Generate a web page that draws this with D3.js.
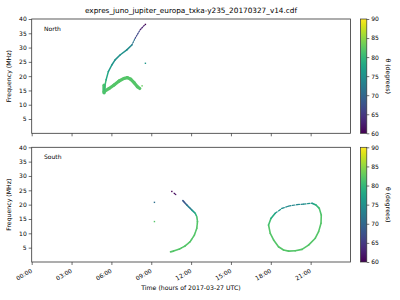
<!DOCTYPE html>
<html>
<head>
<meta charset="utf-8">
<script src="https://cdn.jsdelivr.net/npm/d3@7"></script>
<style>
  body { margin: 0; background: #fff; }
  text { font-family: "DejaVu Sans", sans-serif; fill: #000; }
</style>
</head>
<body>
<svg id="chart" width="400" height="300"></svg>
<script>
const tickHours = [0, 3, 6, 9, 12, 15, 18, 21];
const freqTicks = [5, 10, 15, 20, 25, 30, 35, 40];
const thetaTicks = [60, 65, 70, 75, 80, 85, 90];

// points are [hour, frequency MHz, theta degrees]
const northUpper = [
   [5.45, 15.2, 82], [5.60, 18.7, 79], [5.77, 21.6, 77], [6.03, 23.9, 76],
   [6.28, 25.7, 75], [6.65, 27.4, 75], [7.16, 29.2, 75], [7.54, 30.9, 74]
];
const northUpperTop = [
   [7.54, 30.9, 74], [7.78, 33.2, 69], [8.16, 36.2, 64], [8.50, 37.9, 61]
];
const northLower = [
   [5.45, 14.6, 82], [5.83, 15.7, 82], [6.20, 16.9, 82], [6.58, 18.3, 82],
   [6.95, 19.2, 82], [7.20, 19.5, 82], [7.46, 18.9, 82], [7.71, 17.7, 82],
   [7.96, 16.3, 82], [8.14, 15.7, 82]
];
const northBlob = [[5.45, 14.2, 82], [5.45, 16.8, 81]];
const northDots = [[8.56, 24.5, 76], [8.31, 16.6, 83], [8.56, 38.1, 60]];

const southArcTop = [[10.72, 24.0, 61], [10.85, 23.5, 61]];
const southArc = [
   [11.38, 21.4, 66], [11.68, 19.9, 70], [12.06, 18.1, 75], [12.31, 17.0, 78],
   [12.43, 15.8, 81], [12.48, 14.1, 82], [12.43, 11.8, 82], [12.25, 9.4, 82],
   [11.93, 7.1, 82], [11.55, 5.6, 82], [11.12, 4.5, 82], [10.67, 3.8, 82],
   [10.42, 3.5, 82]
];
const southLoop = [
   [21.10, 20.5, 76], [21.40, 19.9, 79], [21.65, 18.7, 81], [21.80, 16.4, 82],
   [21.78, 13.5, 82], [21.60, 10.6, 82], [21.35, 8.3, 82], [20.84, 5.9, 82],
   [20.35, 4.4, 82], [19.84, 3.9, 82], [19.34, 3.8, 82], [18.96, 4.2, 82],
   [18.58, 5.3, 82], [18.21, 7.7, 82], [17.96, 10.0, 82], [17.83, 12.9, 82],
   [18.01, 15.2, 80], [18.33, 17.0, 77]
];
const southLoopTop = [
   [18.33, 17.0, 77], [18.84, 18.7, 75], [19.34, 19.5, 74], [19.97, 20.0, 74],
   [20.47, 20.2, 74], [21.10, 20.5, 76]
];
const southDots = [[9.24, 20.8, 71], [9.24, 14.1, 82], [10.55, 24.6, 60]];

const svg = d3.select('#chart');
const color = d3.scaleSequential(d3.interpolateViridis).domain([60, 90]);
const x = d3.scaleLinear().domain([0, 24]).range([31.7, 350.5]);
const fmt = (h) => String(h).padStart(2, '0') + ':00';

const panels = [
   {
      name: 'North', top: 19, bottom: 133.3, labels: false,
      branches: [
         { pts: northLower, w: 3.2 },
         { pts: northBlob, w: 3.5 },
         { pts: northUpper, w: 1.5 },
         { pts: northUpperTop, w: 1.2, dash: '1.2,1.3' }
      ],
      dots: northDots
   },
   {
      name: 'South', top: 147.3, bottom: 262, labels: true,
      branches: [
         { pts: southArcTop, w: 1.2 },
         { pts: southArc, w: 1.6, dash: '3,0.8' },
         { pts: southLoop, w: 1.6 },
         { pts: southLoopTop, w: 1.2, dash: '2.5,1.5' }
      ],
      dots: southDots
   }
];

svg.append('text')
   .attr('x', 191).attr('y', 13)
   .attr('text-anchor', 'middle')
   .style('font-size', '7.3px')
   .text('expres_juno_jupiter_europa_txka-y235_20170327_v14.cdf');

panels.forEach((p) => {
   const y = d3.scaleLinear().domain([0, 40]).range([p.bottom, p.top]);
   const g = svg.append('g');

   p.branches.forEach((b) => {
      g.append('g')
         .selectAll('line')
         .data(d3.pairs(b.pts))
         .join('line')
         .attr('x1', (d) => x(d[0][0]))
         .attr('y1', (d) => y(d[0][1]))
         .attr('x2', (d) => x(d[1][0]))
         .attr('y2', (d) => y(d[1][1]))
         .attr('stroke', (d) => color((d[0][2] + d[1][2]) / 2))
         .attr('stroke-width', b.w)
         .attr('stroke-linecap', 'round')
         .attr('stroke-dasharray', b.dash || null);
   });

   g.append('g')
      .selectAll('rect')
      .data(p.dots)
      .join('rect')
      .attr('x', (d) => x(d[0]) - 0.7)
      .attr('y', (d) => y(d[1]) - 0.7)
      .attr('width', 1.4)
      .attr('height', 1.4)
      .attr('fill', (d) => color(d[2]));

   // axes
   const yAxis = g.append('g')
      .attr('transform', `translate(${x(0)},0)`)
      .call(d3.axisLeft(y).tickValues(freqTicks).tickSize(3).tickPadding(2));
   const xAxis = g.append('g')
      .attr('transform', `translate(0,${p.bottom})`)
      .call(d3.axisBottom(x).tickValues(tickHours).tickSize(3)
         .tickFormat(p.labels ? fmt : ''));
   [yAxis, xAxis].forEach((a) => {
      a.select('.domain').remove();
      a.selectAll('line').attr('stroke', '#333').attr('stroke-width', 0.7);
      a.selectAll('text').style('font-size', '6px').attr('fill', '#000');
   });
   xAxis.selectAll('text')
      .attr('y', 0).attr('dy', 0)
      .attr('text-anchor', 'end')
      .attr('transform', 'translate(0.5,10) rotate(-30)');

   g.append('rect')
      .attr('x', x(0)).attr('y', p.top)
      .attr('width', x(24) - x(0)).attr('height', p.bottom - p.top)
      .attr('fill', 'none').attr('stroke', '#333').attr('stroke-width', 0.8);

   g.append('text')
      .attr('x', 44).attr('y', p.top + 12)
      .style('font-size', '6px')
      .text(p.name);

   g.append('text')
      .attr('transform', `translate(11,${(p.top + p.bottom) / 2}) rotate(-90)`)
      .attr('text-anchor', 'middle')
      .style('font-size', '6.2px')
      .text('Frequency (MHz)');

   // colorbar
   const cb = d3.scaleLinear().domain([60, 90]).range([p.bottom, p.top]);
   const gradId = 'grad' + p.name;
   const grad = svg.append('defs').append('linearGradient')
      .attr('id', gradId)
      .attr('x1', 0).attr('y1', 1).attr('x2', 0).attr('y2', 0);
   d3.range(0, 1.001, 0.05).forEach((t) => {
      grad.append('stop')
         .attr('offset', t)
         .attr('stop-color', d3.interpolateViridis(t));
   });
   g.append('rect')
      .attr('x', 360.5).attr('y', p.top)
      .attr('width', 6.3).attr('height', p.bottom - p.top)
      .attr('fill', `url(#${gradId})`)
      .attr('stroke', '#333').attr('stroke-width', 0.7);
   const cAxis = g.append('g')
      .attr('transform', 'translate(366.8,0)')
      .call(d3.axisRight(cb).tickValues(thetaTicks).tickSize(2.5).tickPadding(2));
   cAxis.select('.domain').remove();
   cAxis.selectAll('line').attr('stroke', '#333').attr('stroke-width', 0.7);
   cAxis.selectAll('text').style('font-size', '6px').attr('fill', '#000');

   g.append('text')
      .attr('transform', `translate(386,${(p.top + p.bottom) / 2}) rotate(90)`)
      .attr('text-anchor', 'middle')
      .style('font-size', '6.2px')
      .text('θ (degrees)');
});

svg.append('text')
   .attr('x', 191).attr('y', 289.5)
   .attr('text-anchor', 'middle')
   .style('font-size', '6.2px')
   .text('Time (hours of 2017-03-27 UTC)');
</script>
</body>
</html>
